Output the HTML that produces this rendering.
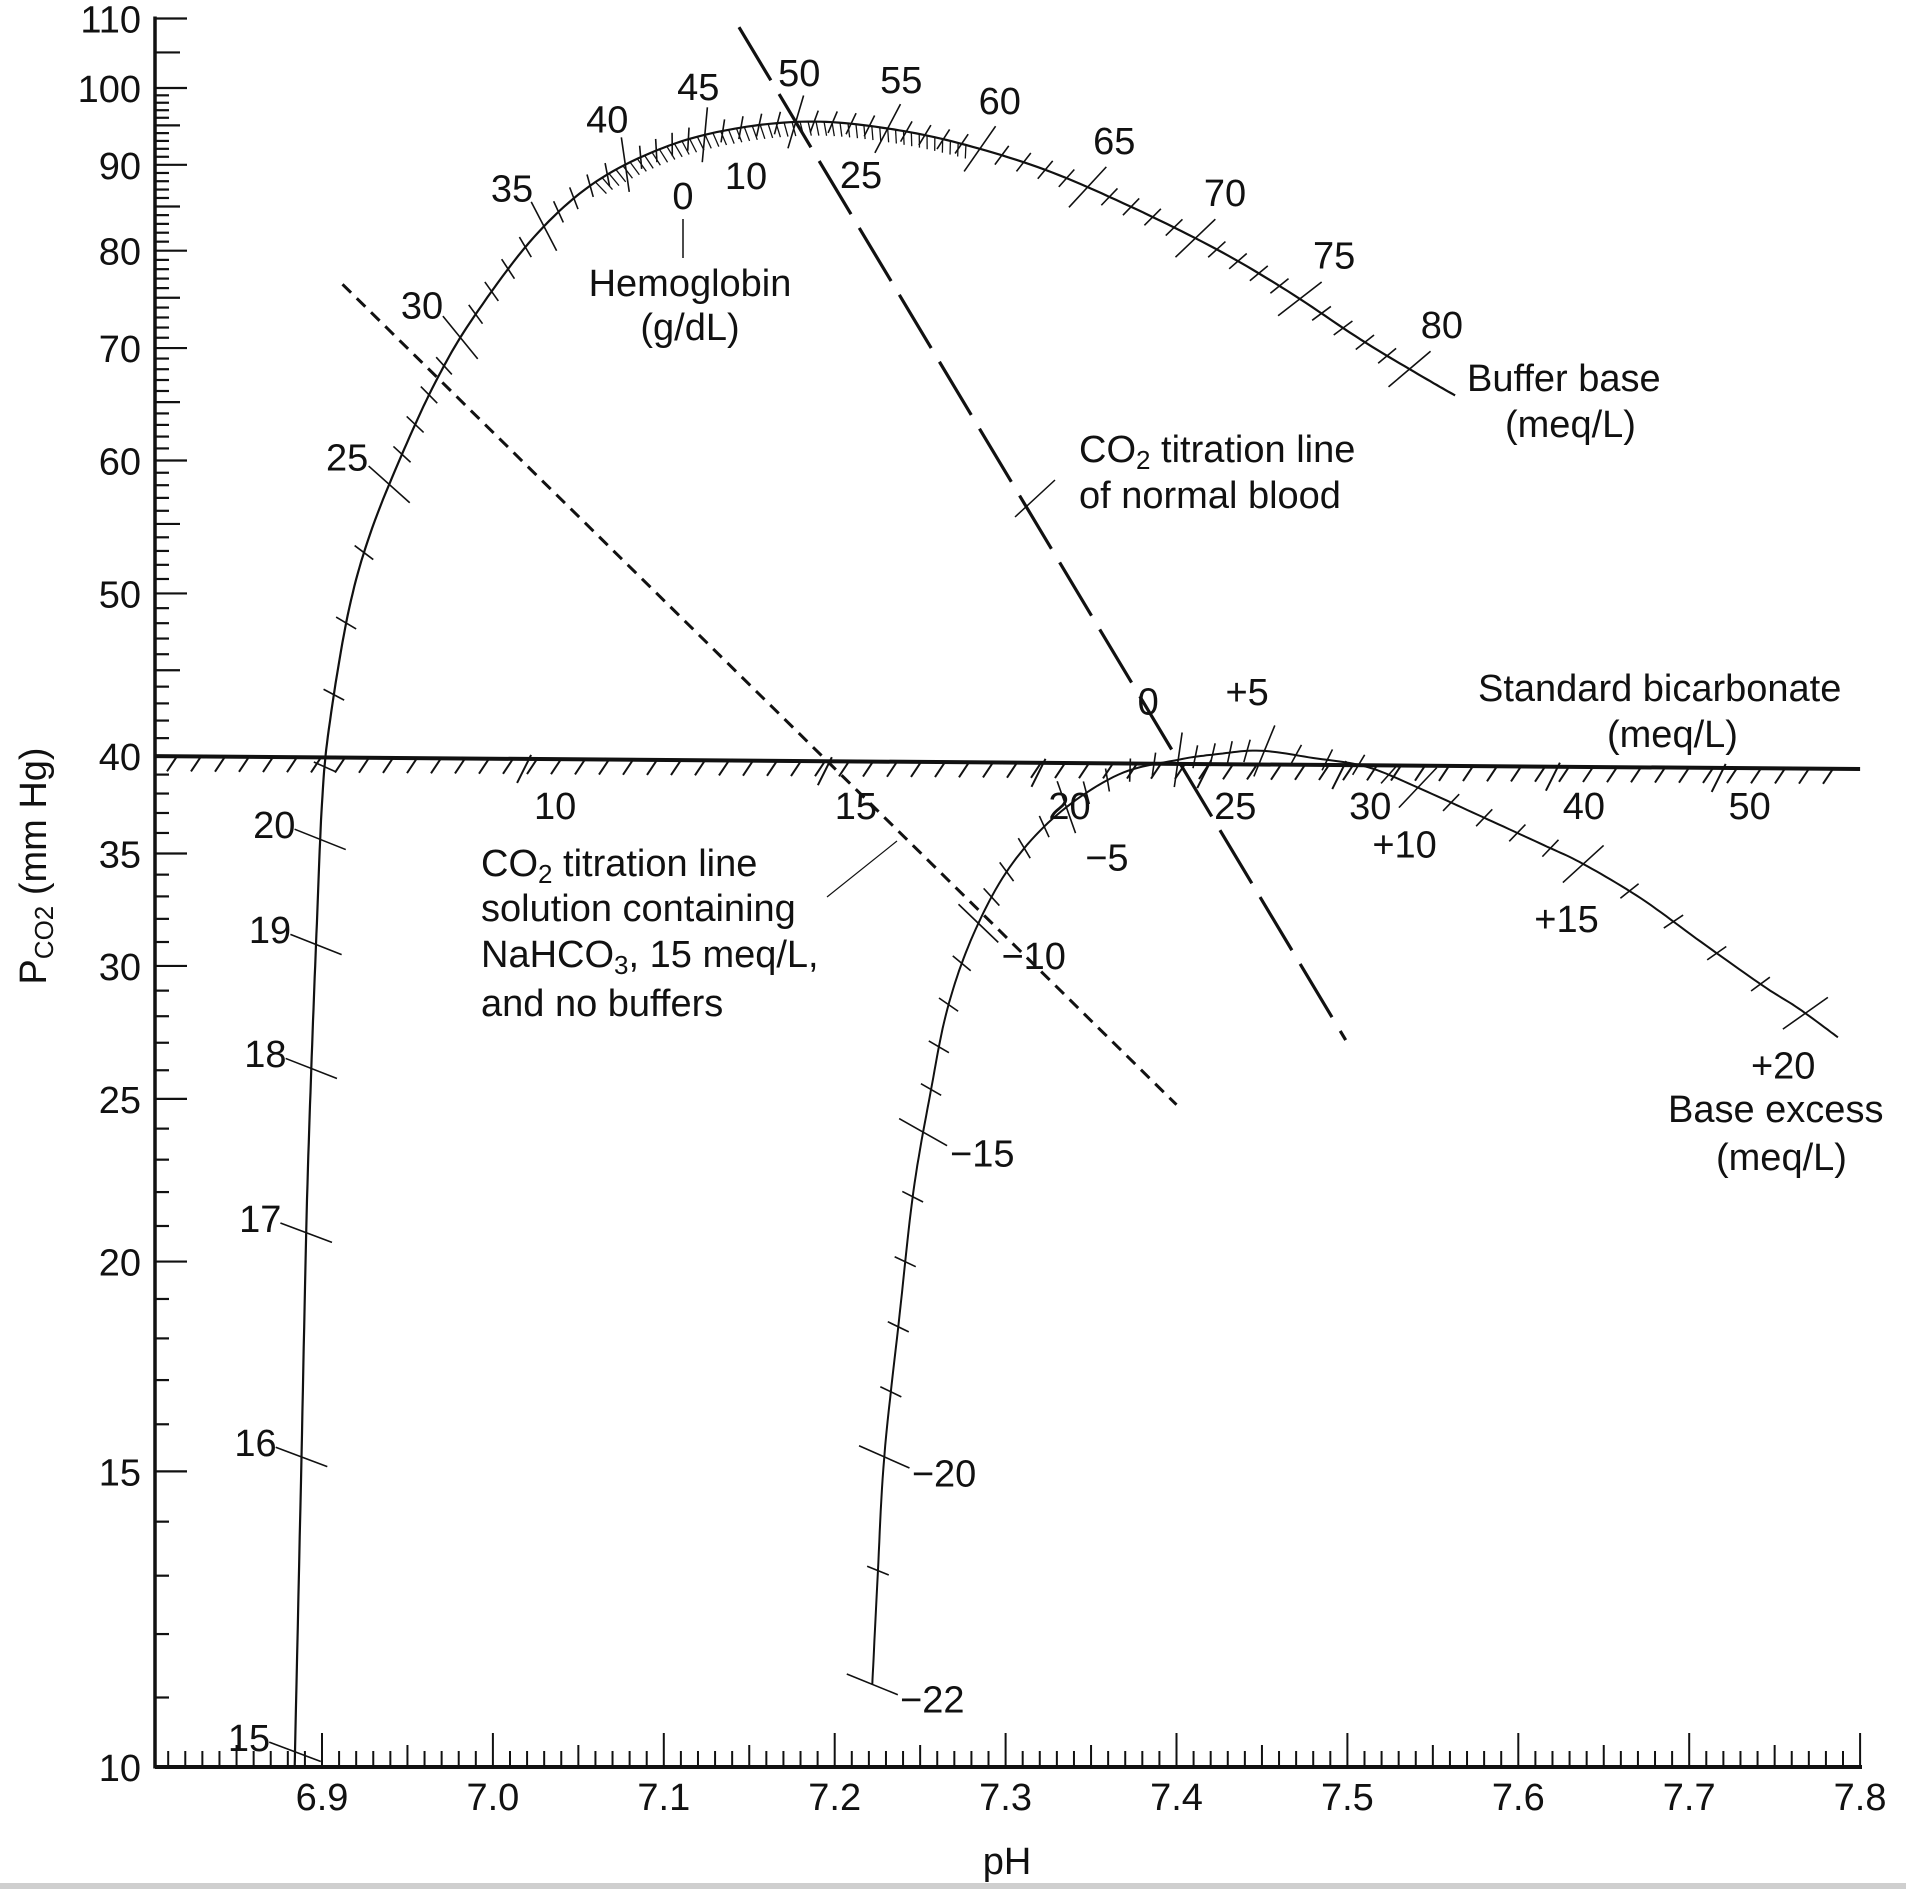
<!DOCTYPE html>
<html><head><meta charset="utf-8"><style>
html,body{margin:0;padding:0;background:#fff;}
svg{display:block;}
text{font-family:"Liberation Sans",Arial,sans-serif;font-size:38px;fill:#111;}
</style></head><body>
<svg id="chart" xmlns="http://www.w3.org/2000/svg" width="1906" height="1889" viewBox="0 0 1906 1889">
<rect x="0" y="0" width="1906" height="1889" fill="#fff"/>
<rect x="0" y="1883" width="1906" height="6" fill="#cfcfcf"/>
<g id="axes"></g>
<g id="marks"></g>
<g id="labels">
<text x="1007" y="1862" text-anchor="middle" dominant-baseline="central">pH</text>
<text transform="translate(34,866) rotate(-90)" text-anchor="middle" dominant-baseline="central">P<tspan font-size="26" dy="10">CO2</tspan><tspan dy="-10"> (mm Hg)</tspan></text>
<text x="683" y="197" text-anchor="middle" dominant-baseline="central">0</text>
<text x="746" y="177" text-anchor="middle" dominant-baseline="central">10</text>
<text x="861" y="176" text-anchor="middle" dominant-baseline="central">25</text>
<line x1="683" y1="219" x2="683" y2="258" stroke="#111" stroke-width="1.5"/>
<text x="690" y="284" text-anchor="middle" dominant-baseline="central">Hemoglobin</text>
<text x="690" y="328" text-anchor="middle" dominant-baseline="central">(g/dL)</text>
<text x="1467" y="379" dominant-baseline="central">Buffer base</text>
<text x="1505" y="425" dominant-baseline="central">(meq/L)</text>
<text x="1079" y="450" dominant-baseline="central">CO<tspan font-size="26" dy="10">2</tspan><tspan dy="-10"> titration line</tspan></text>
<text x="1079" y="496" dominant-baseline="central">of normal blood</text>
<line x1="1015" y1="517" x2="1055" y2="480" stroke="#111" stroke-width="1.5"/>
<text x="1478" y="689" dominant-baseline="central">Standard bicarbonate</text>
<text x="1607" y="735" dominant-baseline="central">(meq/L)</text>
<text x="481" y="864" dominant-baseline="central">CO<tspan font-size="26" dy="10">2</tspan><tspan dy="-10"> titration line</tspan></text>
<text x="481" y="909" dominant-baseline="central">solution containing</text>
<text x="481" y="955" dominant-baseline="central">NaHCO<tspan font-size="26" dy="10">3</tspan><tspan dy="-10">, 15 meq/L,</tspan></text>
<text x="481" y="1004" dominant-baseline="central">and no buffers</text>
<line x1="827" y1="897" x2="897" y2="841" stroke="#111" stroke-width="1.2"/>
<text x="1668" y="1110" dominant-baseline="central">Base excess</text>
<text x="1716" y="1158" dominant-baseline="central">(meq/L)</text>
</g>
</svg>
<script>
// ---- data ----
const yTickLabels = [10,15,20,25,30,35,40,50,60,70,80,90,100,110];
const xTickLabels = [6.9,7.0,7.1,7.2,7.3,7.4,7.5,7.6,7.7,7.8];
// buffer base curve (pH, PCO2)
const bbPH = [6.884,6.888,6.891,6.894,6.897,6.900,6.904,6.915,6.928,6.948,6.968,6.989,7.024,7.060,7.103,7.145,7.188,7.231,7.273,7.323,7.373,7.423,7.465,7.508,7.544,7.563];
const bbPCO2 = [10,15.3,21.3,26.5,31.8,37.5,41.5,48.5,54.2,60.9,67.3,73.1,81.5,87.9,92.4,94.7,95.5,94.6,92.7,89.4,85.0,80.2,75.7,70.8,67.3,65.6];
const bbValues = [15,16,17,18,19,20,25,30,35,40,45,50,55,60,65,70,75,80];
const bbMajorPH = [6.884,6.889,6.892,6.894,6.896,6.900,6.938,6.980,7.030,7.079,7.125,7.177,7.231,7.287,7.348,7.412,7.476,7.540];
const bbMajorPCO2 = [10.2,15.4,20.8,26.0,31.0,35.7,57.9,71.0,82.5,89.3,93.6,95.5,94.7,91.9,87.5,82.2,75.7,69.5];
// base excess curve
const bePH = [7.222,7.225,7.229,7.238,7.246,7.256,7.266,7.281,7.302,7.330,7.366,7.401,7.423,7.449,7.480,7.512,7.544,7.579,7.615,7.638,7.672,7.707,7.743,7.764,7.787];
const bePCO2 = [11.2,12.9,15.3,18.6,22.0,25.2,28.3,31.3,34.3,36.9,39.0,39.8,40.1,40.3,39.9,39.4,38.2,36.8,35.4,34.5,32.9,31.0,29.2,28.3,27.2];
const beValues = [-22,-20,-15,-10,-5,0,5,10,15,20];
const beLabels = ["\u221222","\u221220","\u221215","\u221210","\u22125","0","+5","+10","+15","+20"];
const beMajorPH = [7.222,7.232,7.258,7.295,7.343,7.402,7.451,7.540,7.638,7.768];
const beMajorPCO2 = [11.2,15.4,23.7,31.5,36.7,39.6,40.1,38.3,34.5,28.1];
const beLabelSide = [1,1,1,1,1,-1,-1,1,1,1];
// standard bicarbonate line
const sbEndPH = [6.802,7.8];
const sbEndPCO2 = [40.0,39.3];
const sbValues = [10,15,20,25,30,40,50];
const sbPH = [7.02,7.196,7.321,7.418,7.497,7.622,7.719];
// titration lines
const normalPH = [7.144,7.499];
const normalPCO2 = [108.7,27.1];
const nahco3PH = [6.912,7.400];
const nahco3PCO2 = [76.4,24.8];

// ---- scales ----
const X = ph => 322 + (ph - 6.9) * 1709;
const Y = p => 88 + (2 - Math.log10(p)) * 1679;
const NS = "http://www.w3.org/2000/svg";
const axes = document.getElementById('axes');
const marks = document.getElementById('marks');
function mk(parent, tag, attrs, name) {
  const el = document.createElementNS(NS, tag);
  for (const k in attrs) el.setAttribute(k, attrs[k]);
  
  
  parent.appendChild(el);
  return el;
}
function txt(parent, x, y, s, anchor, name) {
  const t = mk(parent, 'text', {x: x, y: y, 'text-anchor': anchor, 'dominant-baseline': 'central'}, name);
  t.textContent = s;
  return t;
}
const X0 = 155, X1 = 1862, YB = 1767, YT = Y(110);
mk(axes, 'line', {x1: X0, y1: YT - 2, x2: X0, y2: YB + 1.5, stroke: '#111', 'stroke-width': 3.5}, 'y-axis-line');
mk(axes, 'line', {x1: X0, y1: YB, x2: X1, y2: YB, stroke: '#111', 'stroke-width': 4}, 'x-axis-line');
const yMinor = [];
for (let v = 10; v <= 100; v++) yMinor.push(v);
yMinor.push(105, 110);
yMinor.forEach(v => {
  const len = yTickLabels.includes(v) ? 32 : (v % 5 === 0 ? 25 : 14);
  mk(axes, 'line', {x1: X0, y1: Y(v), x2: X0 + len, y2: Y(v), stroke: '#111', 'stroke-width': 2.2}, 'y-tick');
});
yTickLabels.forEach(v => txt(axes, 141, Y(v) + 2, String(v), 'end', 'y-tick-label'));
for (let i = 0; i <= 100; i++) {
  const ph = 6.8 + i * 0.01;
  const x = X(ph);
  if (x < X0 + 2) continue;
  const len = (i % 10 === 0) ? 34 : (i % 5 === 0 ? 22 : 16);
  mk(axes, 'line', {x1: x, y1: YB, x2: x, y2: YB - len, stroke: '#111', 'stroke-width': 2}, 'x-tick');
}
xTickLabels.forEach(v => txt(axes, X(v), 1798, v.toFixed(1), 'middle', 'x-tick-label'));

// ---- curve helpers ----
function sample(phs, ps) {
  const pts = phs.map((h, i) => [X(h), Y(ps[i])]);
  const out = [];
  for (let i = 0; i < pts.length - 1; i++) {
    const p0 = pts[i - 1] || pts[i], p1 = pts[i], p2 = pts[i + 1], p3 = pts[i + 2] || pts[i + 1];
    for (let s = 0; s < 12; s++) {
      const t = s / 12, t2 = t * t, t3 = t2 * t;
      const f = (a, b, c, d) => 0.5 * ((2 * b) + (-a + c) * t + (2 * a - 5 * b + 4 * c - d) * t2 + (-a + 3 * b - 3 * c + d) * t3);
      out.push([f(p0[0], p1[0], p2[0], p3[0]), f(p0[1], p1[1], p2[1], p3[1])]);
    }
  }
  out.push(pts[pts.length - 1]);
  const arc = [0];
  for (let i = 1; i < out.length; i++) arc.push(arc[i - 1] + Math.hypot(out[i][0] - out[i - 1][0], out[i][1] - out[i - 1][1]));
  return {pts: out, arc: arc};
}
function nearestS(c, x, y) {
  let best = 0, bd = 1e9;
  c.pts.forEach((p, i) => { const d = Math.hypot(p[0] - x, p[1] - y); if (d < bd) { bd = d; best = i; } });
  return c.arc[best];
}
function at(c, s) {
  let i = 1;
  while (i < c.arc.length - 1 && c.arc[i] < s) i++;
  const a = c.pts[i - 1], b = c.pts[i];
  const seg = c.arc[i] - c.arc[i - 1] || 1;
  const t = Math.max(0, Math.min(1, (s - c.arc[i - 1]) / seg));
  const dx = (b[0] - a[0]) / seg, dy = (b[1] - a[1]) / seg;
  return {x: a[0] + (b[0] - a[0]) * t, y: a[1] + (b[1] - a[1]) * t, tx: dx, ty: dy};
}
function pathD(c) { return 'M' + c.pts.map(p => p[0].toFixed(1) + ',' + p[1].toFixed(1)).join(' L'); }
function tick(c, s, len, name) {
  const q = at(c, s);
  const nx = q.ty, ny = -q.tx;
  const sx = nx + q.tx * 0.35, sy = ny + q.ty * 0.35;
  mk(marks, 'line', {x1: q.x - sx * len, y1: q.y - sy * len, x2: q.x + sx * len, y2: q.y + sy * len, stroke: '#111', 'stroke-width': 1.6}, name);
}

// ---- buffer base curve ----
const bb = sample(bbPH, bbPCO2);
mk(marks, 'path', {d: pathD(bb), fill: 'none', stroke: '#111', 'stroke-width': 2.2}, 'buffer-base-curve');
const bbS = bbMajorPH.map((h, i) => nearestS(bb, X(h), Y(bbMajorPCO2[i])));
bbValues.forEach((v, i) => {
  tick(bb, bbS[i], 26, 'buffer-base-major-tick');
  if (i < bbValues.length - 1) {
    const n = bbValues[i + 1] - v;
    for (let k = 1; k < n; k++) tick(bb, bbS[i] + (bbS[i + 1] - bbS[i]) * k / n, 11, 'buffer-base-minor-tick');
  }
  const q = at(bb, bbS[i]);
  txt(marks, q.x + q.ty * 52 + 6, q.y - q.tx * 36 - 12, String(v), 'middle', 'buffer-base-label');
});
const hbS0 = nearestS(bb, X(7.06), Y(88)), hbS1 = nearestS(bb, X(7.28), Y(92));
for (let s = hbS0; s <= hbS1; s += 8) {
  const q = at(bb, s);
  mk(marks, 'line', {x1: q.x, y1: q.y, x2: q.x - q.ty * 14 + 3, y2: q.y + q.tx * 14, stroke: '#111', 'stroke-width': 1.3}, 'hemoglobin-tick');
}

// ---- base excess curve ----
const be = sample(bePH, bePCO2);
mk(marks, 'path', {d: pathD(be), fill: 'none', stroke: '#111', 'stroke-width': 2}, 'base-excess-curve');
const beS = beMajorPH.map((h, i) => nearestS(be, X(h), Y(beMajorPCO2[i])));
beValues.forEach((v, i) => {
  tick(be, beS[i], 26, 'base-excess-major-tick');
  if (i < beValues.length - 1) {
    const n = beValues[i + 1] - v;
    for (let k = 1; k < n; k++) tick(be, beS[i] + (beS[i + 1] - beS[i]) * k / n, 11, 'base-excess-minor-tick');
  }
  const q = at(be, beS[i]);
  const sd = beLabelSide[i];
  txt(marks, q.x - q.ty * 52 * sd + (sd > 0 ? 8 : -20), q.y + q.tx * 48 * sd + (sd > 0 ? 14 : -10), beLabels[i], 'middle', 'base-excess-label');
});

// ---- standard bicarbonate line ----
const sbx0 = X0, sbx1 = X(sbEndPH[1]), sby0 = Y(sbEndPCO2[0]), sby1 = Y(sbEndPCO2[1]);
mk(marks, 'line', {x1: sbx0, y1: sby0, x2: sbx1, y2: sby1, stroke: '#111', 'stroke-width': 4}, 'standard-bicarbonate-line');
const sbYat = x => sby0 + (sby1 - sby0) * (x - sbx0) / (sbx1 - sbx0);
for (let x = sbx0 + 22; x < sbx1 - 4; x += 24) {
  const y = sbYat(x);
  mk(marks, 'line', {x1: x, y1: y, x2: x - 10, y2: y + 15, stroke: '#111', 'stroke-width': 2}, 'standard-bicarbonate-hatch');
}
sbValues.forEach((v, i) => {
  const x = X(sbPH[i]);
  const y = sbYat(x);
  mk(marks, 'line', {x1: x + 4, y1: y - 4, x2: x - 10, y2: y + 24, stroke: '#111', 'stroke-width': 2}, 'standard-bicarbonate-major-tick');
  txt(marks, x + 28, 807, String(v), 'middle', 'standard-bicarbonate-label');
});

// ---- titration lines ----
mk(marks, 'line', {x1: X(normalPH[0]), y1: Y(normalPCO2[0]), x2: X(normalPH[1]), y2: Y(normalPCO2[1]), stroke: '#111', 'stroke-width': 3.2, 'stroke-dasharray': '62 16'}, 'normal-blood-titration-line');
mk(marks, 'line', {x1: X(nahco3PH[0]), y1: Y(nahco3PCO2[0]), x2: X(nahco3PH[1]), y2: Y(nahco3PCO2[1]), stroke: '#111', 'stroke-width': 3, 'stroke-dasharray': '12 8'}, 'nahco3-titration-line');
</script>
</body></html>
